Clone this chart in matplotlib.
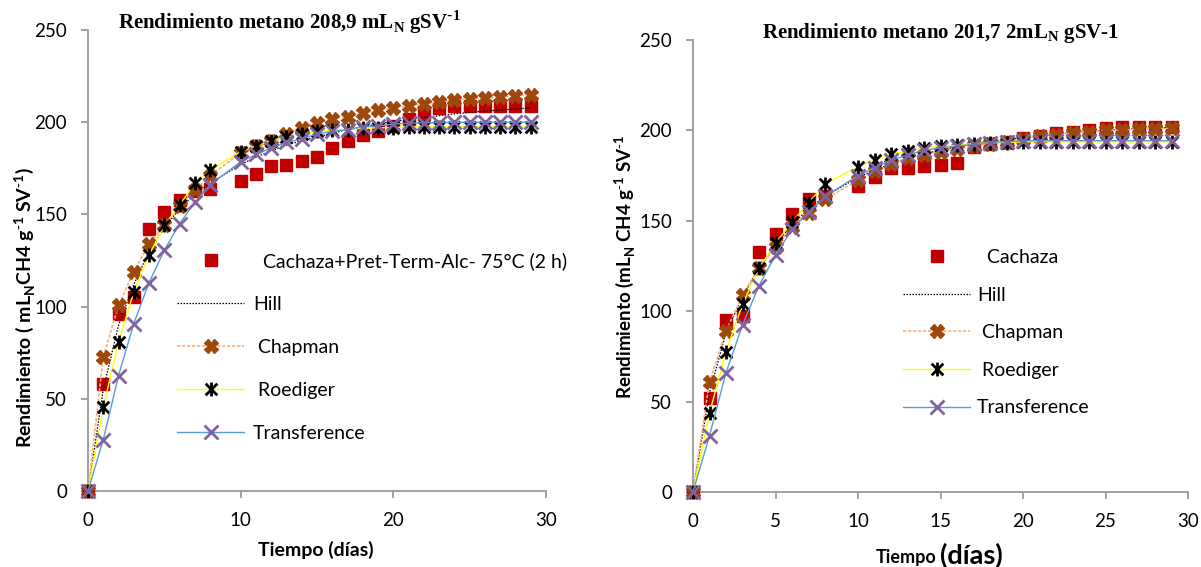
import matplotlib
matplotlib.use("Agg")
import matplotlib.pyplot as plt
from matplotlib.path import Path

plt.rcParams['font.family'] = ['Lato', 'DejaVu Sans']

W, H = 1201, 567

# days (no reading on day 9)
dias = [0, 1, 2, 3, 4, 5, 6, 7, 8, 10, 11, 12, 13, 14, 15, 16, 17, 18, 19,
        20, 21, 22, 23, 24, 25, 26, 27, 28, 29]

# --- left panel: Cachaza + Pret-Term-Alc 75 C (2 h) ---
izq_cachaza = [0, 58, 96, 105, 142, 151.5, 158, 162.5, 164, 168, 172, 176.5,
               177, 179, 181, 186, 190, 193, 195, 198, 201.5, 204.4, 207.5,
               209, 209, 209, 209, 209, 209]
izq_hill = [0, 55, 90, 112, 130, 143, 153, 161, 167, 177, 181, 184.5, 187.5,
            190, 192, 194, 196, 197.5, 199, 200.5, 201.5, 202.5, 203.5, 204.5,
            205.3, 206, 206.6, 207.2, 207.7]
izq_chapman = [0, 72.8, 100.6, 119, 134, 144, 154.5, 163, 171, 183.4, 187, 190,
               193.6, 197, 199.5, 202, 203, 205, 206.5, 207.7, 209, 210, 211,
               212, 212.8, 213, 213.6, 214.4, 215]
izq_roediger = [0, 45.4, 80.7, 108, 128, 144, 155, 167, 174, 184, 187, 190,
                192, 193.6, 195, 195.6, 196, 196.7, 197, 197, 197.5, 197.5,
                197.5, 197.5, 197.5, 197.5, 197.5, 197.5, 197.5]
izq_transf = [0, 27.8, 62.6, 90.8, 113, 130.6, 145, 156.6, 166, 178.5, 182.5,
              186, 189, 191, 193.6, 195, 196, 197.5, 198, 199, 199.5, 199.7,
              199.8, 199.9, 200, 200, 200, 200, 200]

# --- right panel: Cachaza ---
der_cachaza = [0, 52, 95, 97.5, 132.7, 142.6, 153.5, 162, 163.5, 169.5, 174,
               179, 179, 180.4, 181, 181.8, 190.7, 192.3, 193.7, 195.7, 197,
               198.3, 199, 200.3, 201.3, 201.7, 201.7, 201.7, 201.7]
der_hill = [0, 55, 88, 108, 124, 137, 148, 156.5, 163.5, 174, 178, 181.5,
            184.5, 187, 189, 191, 192.5, 194, 195, 196, 197, 198, 198.8, 199.5,
            200, 200.5, 201, 201.3, 201.7]
der_chapman = [0, 61, 89, 108.8, 123.7, 135.6, 146.6, 154.5, 162, 172.4, 177.4,
               181.4, 185, 186.4, 188.3, 189.7, 191.3, 192.7, 193.7, 195.3,
               196.7, 197.7, 198.7, 199.3, 200, 200.3, 200.7, 201, 201.3]
der_roediger = [0, 43.6, 77.6, 103.8, 123.7, 137.6, 149.2, 160, 170.4, 179.8,
                183.8, 186.8, 188.7, 190.3, 191.3, 191.7, 192.7, 193.3, 193.3,
                193.7, 193.7, 193.7, 193.7, 193.7, 193.7, 193.7, 193.7, 193.7,
                193.7]
der_transf = [0, 31.2, 66, 92.3, 114.2, 131, 145.2, 155, 163.5, 175, 179.4,
              183.4, 186.4, 189, 190.3, 191.3, 192.3, 193.3, 193.7, 194.3,
              194.3, 194.3, 194.3, 194.3, 194.3, 194.3, 194.3, 194.3, 194.3]

# excel-like star: vertical bar + x
estrella = Path([(0, -0.5), (0, 0.5), (-0.42, -0.42), (0.42, 0.42),
                 (-0.42, 0.42), (0.42, -0.42)],
                [Path.MOVETO, Path.LINETO, Path.MOVETO, Path.LINETO,
                 Path.MOVETO, Path.LINETO])

gris = '#a0a0a0'


def panel(ax, cach, hill, chap, roed, transf, etiqueta, xticks):
    ax.plot(dias, cach, ls='none', marker='s', ms=8, color='#c00000',
            label='  ' + etiqueta, clip_on=False, zorder=3)
    ax.plot(dias, hill, ls=(0, (1.2, 1.2)), lw=0.9, color='black',
            label='Hill', zorder=3)
    ax.plot(dias, chap, ls=(0, (2, 1)), lw=1.2, color='#f4b183', marker='X',
            ms=10, mfc='#9e480e', mec='#9e480e', label=' Chapman',
            clip_on=False, zorder=3)
    ax.plot(dias, roed, lw=1.0, color='#ffff00', marker=estrella, ms=10,
            mfc='none', mec='black', mew=2, label=' Roediger', clip_on=False,
            zorder=3)
    ax.plot(dias, transf, lw=1.0, color='#5b9bd5', marker='x', ms=10,
            mec='#8064a2', mew=2, label='Transference', clip_on=False,
            zorder=3)
    ax.set_xlim(0, 30)
    ax.set_ylim(0, 250)
    ax.set_xticks(xticks)
    ax.set_yticks(range(0, 251, 50))
    for s in ['top', 'right']:
        ax.spines[s].set_visible(False)
    for s in ['left', 'bottom']:
        ax.spines[s].set_color(gris)
        ax.spines[s].set_linewidth(1.4)
    ax.tick_params(direction='out', length=5, width=1.4, color=gris,
                   labelsize=13.5, pad=10)
    return ax


fig = plt.figure(figsize=(W / 100, H / 100), dpi=100)

ax1 = fig.add_axes([88 / W, 1 - 491 / H, (546 - 88) / W, (491 - 30) / H])
panel(ax1, izq_cachaza, izq_hill, izq_chapman, izq_roediger, izq_transf,
      'Cachaza+Pret-Term-Alc- 75°C (2 h)', [0, 10, 20, 30])
ax1.legend(loc='upper left', bbox_to_anchor=(177 / W, 1 - 252 / H),
           bbox_transform=fig.transFigure, frameon=False, fontsize=14,
           borderpad=0, borderaxespad=0, handlelength=3.45,
           handletextpad=0.45, labelspacing=1.34, numpoints=1)

ax2 = fig.add_axes([693 / W, 1 - 492 / H, (1188 - 693) / W, (492 - 40) / H])
panel(ax2, der_cachaza, der_hill, der_chapman, der_roediger, der_transf,
      'Cachaza', [0, 5, 10, 15, 20, 25, 30])
ax2.legend(loc='upper left', bbox_to_anchor=(903 / W, 1 - 249 / H),
           bbox_transform=fig.transFigure, frameon=False, fontsize=14,
           borderpad=0, borderaxespad=0, handlelength=3.45,
           handletextpad=0.36, labelspacing=1.06, numpoints=1)

# titles
serif = ['Liberation Serif', 'DejaVu Serif']
fig.text(118 / W, 1 - 22 / H,
         r'Rendimiento metano 208,9 mL$_\mathregular{N}$ gSV$^\mathregular{\text{-}1}$',
         family=serif, weight='bold', fontsize=15, ha='left', va='center')
fig.text(762 / W, 1 - 33 / H,
         r'Rendimiento metano 201,7 2mL$_\mathregular{N}$ gSV-1',
         family=serif, weight='bold', fontsize=15, ha='left', va='center')

# axis labels
fig.text(25 / W, 1 - 308 / H,
         r'Rendimiento ( mL$_\mathregular{N}$CH4 g$^\mathregular{\text{-}1}$ SV$^\mathregular{\text{-}1}$)',
         rotation=90, weight='bold', fontsize=14, ha='center', va='center')
fig.text(316 / W, 1 - 550 / H, 'Tiempo (días)', weight='bold', fontsize=14,
         ha='center', va='center')
fig.text(625 / W, 1 - 267 / H,
         r'Rendimiento (mL$_\mathregular{N}$ CH4 g$^\mathregular{\text{-}1}$ SV$^\mathregular{\text{-}1}$',
         rotation=90, weight='bold', fontsize=13.5, ha='center', va='center')
fig.text(936 / W, 1 - 558 / H, 'Tiempo', weight='bold', fontsize=13,
         ha='right', va='center')
fig.text(940 / W, 1 - 555 / H, '(días)', weight='bold', fontsize=19.5,
         ha='left', va='center')

fig.savefig('out.png', dpi=100)
